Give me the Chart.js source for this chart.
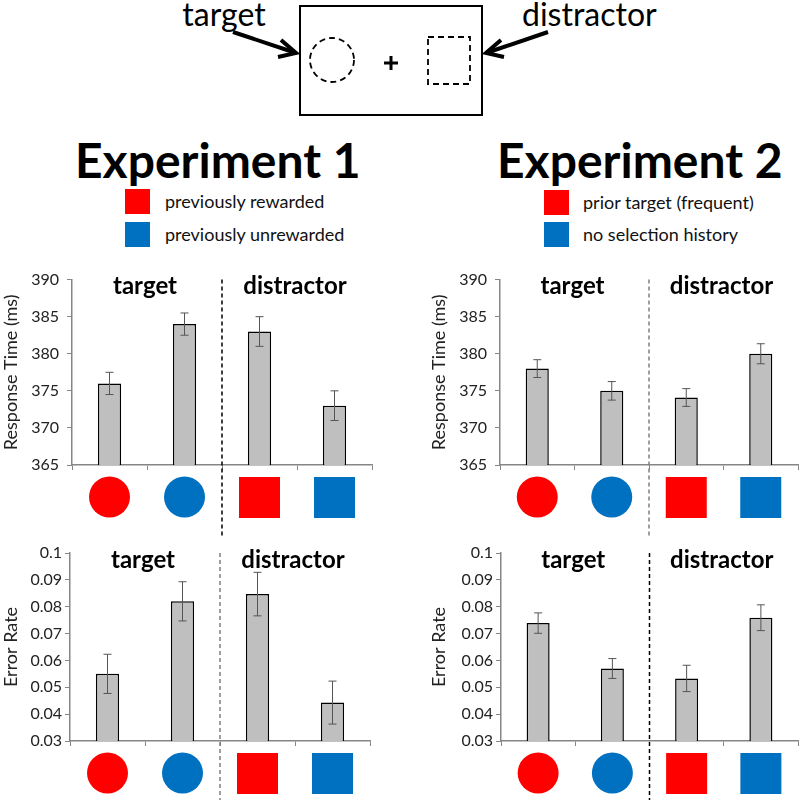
<!DOCTYPE html>
<html>
<head>
<meta charset="utf-8">
<script src="https://cdn.jsdelivr.net/npm/chart.js@4.4.1/dist/chart.umd.min.js"></script>
<style>
  body { margin: 0; background: #fff; font-family: Lato, "Open Sans", sans-serif; }
  #page { position: relative; width: 800px; height: 800px; overflow: hidden; }
  .abs { position: absolute; }
  .expTitle { font-weight: bold; font-size: 48px; color: #000; white-space: nowrap; line-height: 1; }
  .legSq { position: absolute; width: 25px; height: 25px; }
  .legTx { position: absolute; font-size: 18px; color: #111; white-space: nowrap; line-height: 1; }
</style>
</head>
<body>
<div id="page">
  <svg class="abs" style="left:0;top:0" width="800" height="130">
    <rect x="300" y="6" width="182" height="109" fill="none" stroke="#000" stroke-width="2"/>
    <circle cx="332" cy="60" r="22" fill="none" stroke="#000" stroke-width="1.8" stroke-dasharray="6,4"/>
    <path d="M391 56 V70 M384 63 H398" stroke="#000" stroke-width="3"/>
    <rect x="428" y="37" width="42" height="47" fill="none" stroke="#000" stroke-width="1.8" stroke-dasharray="6,4"/>
    <path d="M233 32 L293 52" stroke="#000" stroke-width="4"/>
    <path d="M281 40 L296 53 L278 57" fill="none" stroke="#000" stroke-width="4" stroke-linejoin="miter"/>
    <path d="M548 32 L489 52" stroke="#000" stroke-width="4"/>
    <path d="M501 40 L486 53 L504 57" fill="none" stroke="#000" stroke-width="4" stroke-linejoin="miter"/>
    <text x="224" y="26" text-anchor="middle" font-family="Lato" font-size="32" fill="#000">target</text>
    <text x="522" y="26" text-anchor="start" font-family="Lato" font-size="32" fill="#000">distractor</text>
  </svg>

  <div class="abs expTitle" style="left:75px;top:136px">Experiment 1</div>
  <div class="abs expTitle" style="left:497px;top:136px">Experiment 2</div>

  <div class="legSq" style="left:125px;top:189px;background:#FF0000"></div>
  <div class="legTx" style="left:165px;top:192px">previously rewarded</div>
  <div class="legSq" style="left:125px;top:222px;background:#0070C0"></div>
  <div class="legTx" style="left:165px;top:225px">previously unrewarded</div>

  <div class="legSq" style="left:544px;top:190px;background:#FF0000"></div>
  <div class="legTx" style="left:583px;top:193px">prior target (frequent)</div>
  <div class="legSq" style="left:544px;top:222px;background:#0070C0"></div>
  <div class="legTx" style="left:583px;top:225px">no selection history</div>

  <div class="abs" style="left:0;top:262px;width:380px;height:275px"><canvas id="rt1"></canvas></div>
  <div class="abs" style="left:428px;top:262px;width:372px;height:275px"><canvas id="rt2"></canvas></div>
  <div class="abs" style="left:0;top:538px;width:380px;height:262px"><canvas id="er1"></canvas></div>
  <div class="abs" style="left:428px;top:538px;width:372px;height:262px"><canvas id="er2"></canvas></div>
</div>

<script>
// conditions, in bar order
const conditions = ["target red", "target blue", "distractor red", "distractor blue"];
const iconShapes = ["circle", "circle", "square", "square"];
const iconColors = ["#FF0000", "#0070C0", "#FF0000", "#0070C0"];
const groupLabels = ["target", "distractor"];

// response times (ms) and their error bars
const exp1Rt = [376, 384, 383, 373];
const exp1RtErr = [1.5, 1.5, 2.0, 2.0];
const exp2Rt = [378, 375, 374.1, 380];
const exp2RtErr = [1.2, 1.25, 1.2, 1.35];

// error rates and their error bars
const exp1Er = [0.055, 0.082, 0.0847, 0.0443];
const exp1ErErr = [0.0073, 0.0073, 0.0081, 0.008];
const exp2Er = [0.0739, 0.057, 0.0533, 0.0759];
const exp2ErErr = [0.0038, 0.0037, 0.0049, 0.0048];

// axis ranges
const rtRange = { min: 365, max: 390, step: 5 };
const erRange = { min: 0.03, max: 0.1, step: 0.01 };

const FONT = "Lato, 'Open Sans', sans-serif";
const AXIS_GREY = "#868686";

const panelDecor = {
  id: "panelDecor",
  afterDatasetsDraw(chart, args, opts) {
    const ctx = chart.ctx;
    const xs = chart.scales.x, ys = chart.scales.y;
    const vals = chart.data.datasets[0].data;
    const errs = opts.errors;
    ctx.save();
    ctx.strokeStyle = "#555";
    ctx.lineWidth = 1;
    vals.forEach((v, i) => {
      const x = xs.getPixelForValue(i);
      const top = ys.getPixelForValue(v + errs[i]);
      const bot = ys.getPixelForValue(v - errs[i]);
      ctx.beginPath();
      ctx.moveTo(x, top); ctx.lineTo(x, bot);
      ctx.moveTo(x - 4, top); ctx.lineTo(x + 4, top);
      ctx.moveTo(x - 4, bot); ctx.lineTo(x + 4, bot);
      ctx.stroke();
    });
    ctx.restore();
  },
  afterDraw(chart, args, opts) {
    const ctx = chart.ctx;
    const xs = chart.scales.x;
    const area = chart.chartArea;
    ctx.save();

    // dashed separator between target and distractor
    const sepX = (xs.getPixelForValue(1) + xs.getPixelForValue(2)) / 2;
    ctx.strokeStyle = opts.dashColor;
    ctx.lineWidth = 1.5;
    ctx.setLineDash([4, 3]);
    ctx.beginPath();
    ctx.moveTo(sepX, area.top);
    ctx.lineTo(sepX, chart.height);
    ctx.stroke();
    ctx.setLineDash([]);

    // group headings
    ctx.fillStyle = "#000";
    ctx.font = "bold 24px " + FONT;
    ctx.textAlign = "center";
    ctx.textBaseline = "middle";
    groupLabels.forEach((lab, g) => {
      const cx = (xs.getPixelForValue(2 * g) + xs.getPixelForValue(2 * g + 1)) / 2;
      ctx.fillText(lab, cx - 2, area.top + 7);
    });

    // condition icons below the axis
    conditions.forEach((c, i) => {
      const x = xs.getPixelForValue(i);
      ctx.fillStyle = iconColors[i];
      if (iconShapes[i] === "circle") {
        ctx.beginPath();
        ctx.arc(x, area.bottom + 32, 20.5, 0, Math.PI * 2);
        ctx.fill();
      } else {
        ctx.fillRect(x - 20.5, area.bottom + 12, 41, 41);
      }
    });
    ctx.restore();
  }
};

function makePanel(id, values, errors, range, yTitle, opt) {
  new Chart(document.getElementById(id), {
    type: "bar",
    data: {
      labels: conditions,
      datasets: [{
        data: values,
        backgroundColor: "#BFBFBF",
        borderColor: "#000",
        borderWidth: 1.5,
        barPercentage: 0.31,
        categoryPercentage: 1
      }]
    },
    options: {
      responsive: true,
      maintainAspectRatio: false,
      animation: false,
      layout: { padding: { top: 15, right: opt.padRight, left: 0, bottom: 0 } },
      plugins: {
        legend: { display: false },
        tooltip: { enabled: false },
        panelDecor: { errors: errors, dashColor: opt.dashColor }
      },
      scales: {
        x: {
          ticks: { display: false },
          grid: { drawOnChartArea: false, drawTicks: true, tickLength: 5, color: AXIS_GREY },
          border: { display: true, color: AXIS_GREY, width: 1.5 },
          afterFit: (s) => { s.height = opt.xHeight; }
        },
        y: {
          min: range.min,
          max: range.max,
          ticks: {
            stepSize: range.step,
            color: "#222",
            padding: opt.tickPad,
            font: { family: FONT, size: 16 },
            callback: (v) => String(+v.toFixed(2))
          },
          grid: { drawOnChartArea: false, drawTicks: true, tickLength: 5, color: AXIS_GREY },
          border: { display: true, color: AXIS_GREY, width: 1.5 },
          title: {
            display: true,
            text: yTitle,
            color: "#222",
            padding: { top: 0, bottom: 2 },
            font: { family: FONT, size: 18 }
          },
          afterFit: (s) => { s.width = opt.yWidth; }
        }
      }
    },
    plugins: [panelDecor]
  });
}

makePanel("rt1", exp1Rt, exp1RtErr, rtRange, "Response Time (ms)",
  { padRight: 8, xHeight: 72, yWidth: 72, tickPad: 8, dashColor: "#000" });
makePanel("rt2", exp2Rt, exp2RtErr, rtRange, "Response Time (ms)",
  { padRight: 2, xHeight: 72, yWidth: 72, tickPad: 8, dashColor: "#808080" });
makePanel("er1", exp1Er, exp1ErErr, erRange, "Error Rate",
  { padRight: 10, xHeight: 59, yWidth: 70, tickPad: 3, dashColor: "#808080" });
makePanel("er2", exp2Er, exp2ErErr, erRange, "Error Rate",
  { padRight: 2, xHeight: 59, yWidth: 73, tickPad: 3, dashColor: "#000" });
</script>
</body>
</html>
